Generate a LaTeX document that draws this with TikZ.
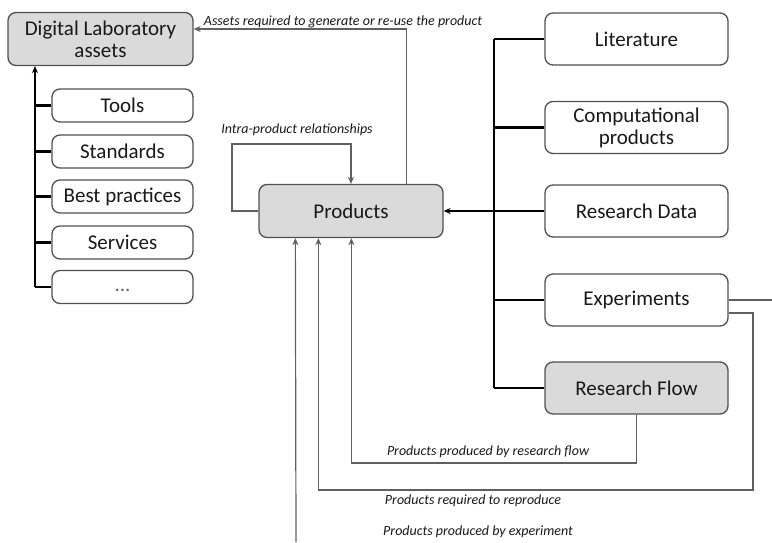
\documentclass[tikz,border=0pt]{standalone}
\usepackage{fontspec}
\setmainfont{Carlito}
\usetikzlibrary{arrows.meta}
\definecolor{boxline}{HTML}{505050}
\definecolor{boxfill}{HTML}{DADADA}
\definecolor{thinline}{HTML}{606060}
\tikzset{
  box/.style={draw=boxline, line width=1.3pt, rounded corners=8pt, fill=white,
    align=center, inner sep=0pt, text=black!90, font=\fontsize{21}{22}\selectfont},
  graybox/.style={box, fill=boxfill},
  tree/.style={line width=2.4pt, draw=black},
  thin/.style={line width=1.2pt, draw=thinline},
  tip/.style={-{Stealth[length=7pt,width=6pt]}},
  lbl/.style={font=\fontsize{14}{15}\selectfont\itshape, inner sep=0pt, text=black!90}
}
\begin{document}
\begin{tikzpicture}[x=1pt,y=-1pt]
\useasboundingbox (0,0) rectangle (772,542);
% left group
\node[graybox, minimum width=185pt, minimum height=53pt] (dla) at (100.5,39) {Digital Laboratory\\assets};
\node[box, minimum width=141pt, minimum height=33pt] (tools) at (122.5,105.5) {Tools};
\node[box, minimum width=141pt, minimum height=33pt] (std) at (122.5,151.5) {Standards};
\node[box, minimum width=141pt, minimum height=33pt] (best) at (122.5,196.5) {Best practices};
\node[box, minimum width=141pt, minimum height=33pt] (serv) at (122.5,242.5) {Services};
\node[box, minimum width=141pt, minimum height=33pt, text=black!60] (dots) at (122.5,287) {\strut...};
% center
\node[graybox, minimum width=184pt, minimum height=53pt] (prod) at (351,211) {Products};
% right group
\node[box, minimum width=183pt, minimum height=52pt] (lit) at (636.5,39) {Literature};
\node[box, minimum width=183pt, minimum height=52pt] (comp) at (636.5,127.5) {Computational\\products};
\node[box, minimum width=183pt, minimum height=52pt] (rd) at (636.5,211) {Research Data};
\node[box, minimum width=183pt, minimum height=52pt] (exp) at (636.5,300) {Experiments};
\node[graybox, minimum width=183pt, minimum height=52pt] (rf) at (636.5,388) {Research Flow};
% trunks
\coordinate (trunkL) at (35,0);
\coordinate (trunkR) at (494,0);
\foreach \n in {tools,std,best,serv,dots} \draw[tree] (\n.west -| trunkL) -- (\n.west);
\draw[tree, tip] (dots.west -| trunkL) -- (dla.south -| trunkL);
\foreach \n in {lit,comp,rd,exp,rf} \draw[tree] (\n.west -| trunkR) -- (\n.west);
\draw[tree] (lit.west -| trunkR) -- (rf.west -| trunkR);
\draw[tree, tip] (prod.east -| trunkR) -- (prod.east);
% assets arrow
\draw[thin, tip] ([xshift=-37pt]prod.north east) |- ([yshift=10pt]dla.east);
\node[lbl] (lblassets) at (343,22) {Assets required to generate or re-use the product};
% self loop
\coordinate (loopL) at (232,144);
\draw[thin, tip] (prod.west) -- (prod.west -| loopL) -- (loopL) -| (prod.north);
\node[lbl] (lblintra) at (297,130) {Intra-product relationships};
% research flow
\coordinate (rfb) at (636.5,463);
\draw[thin, tip] (rf.south) -- (rfb) -| ([xshift=93pt]prod.south west);
\node[lbl] (lblrf) at (488,452) {Products produced by research flow};
% experiments required
\coordinate (ex1) at (753,313);
\coordinate (ex2) at (753,490);
\draw[thin, tip] ([yshift=-13pt]exp.east) -- (ex1) -- (ex2) -| ([xshift=60pt]prod.south west);
\node[lbl] (lblreq) at (473,501) {Products required to reproduce};
% experiments produced
\coordinate (ex3) at (772,300);
\draw[thin] (exp.east) -- (ex3);
\coordinate (bot) at (296,542);
\draw[thin, tip] (bot) -- ([xshift=37pt]prod.south west);
\node[lbl] (lblexp) at (478,532) {Products produced by experiment};
\end{tikzpicture}
\end{document}
